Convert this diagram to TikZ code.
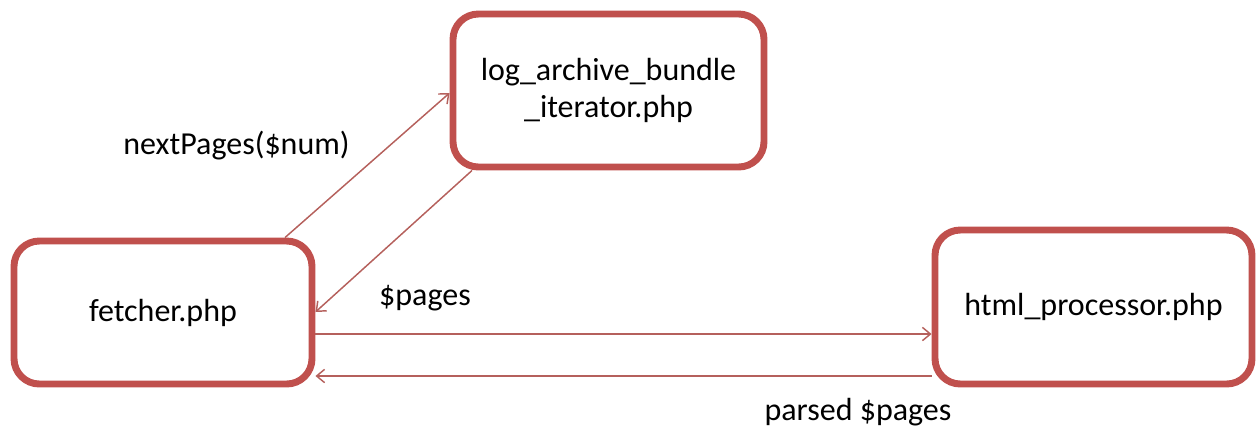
\documentclass[tikz,border=0pt]{standalone}
\usepackage{fontspec}
\setmainfont{Carlito}
\usetikzlibrary{arrows.meta}
\definecolor{boxred}{HTML}{C0504D}
\definecolor{arrred}{HTML}{B5605C}
\tikzset{
  module/.style={draw=boxred, line width=5.2pt, rounded corners=19pt, fill=white,
    align=center, font=\fontsize{24}{27.5}\selectfont, inner sep=0pt},
  flow/.style={draw=arrred, line width=1.1pt, -{Straight Barb[length=6pt,width=10pt,line width=1.1pt]}},
  lbl/.style={font=\fontsize{24}{27.5}\selectfont, inner sep=0pt}
}
\begin{document}
\begin{tikzpicture}[x=0.75pt, y=-0.75pt]
\useasboundingbox (0,0) rectangle (1257,430);
\node[module, minimum width=233.25pt, minimum height=114.75pt] (log) at (608.5,90.5) {log\_archive\_bundle\\\_iterator.php};
\node[module, minimum width=223.5pt, minimum height=107.25pt] (fetcher) at (163,312.5) {fetcher.php};
\node[module, minimum width=237.75pt, minimum height=115.5pt] (html) at (1093.5,307) {html\_processor.php};
\draw[flow] (fetcher.north -| 285,0) -- (log.west |- 0,93);
\draw[flow] (log.south -| 472,0) -- (fetcher.east |- 0,312);
\draw[flow] (fetcher.east |- 0,334) -- (html.west |- 0,334);
\draw[flow] (html.west |- 0,376) -- (fetcher.east |- 0,376);
\node[lbl] (l1) at (236.5,146) {nextPages(\$num)};
\node[lbl] (l2) at (425,298) {\$pages};
\node[lbl] (l3) at (858,412) {parsed \$pages};
\end{tikzpicture}
\end{document}
